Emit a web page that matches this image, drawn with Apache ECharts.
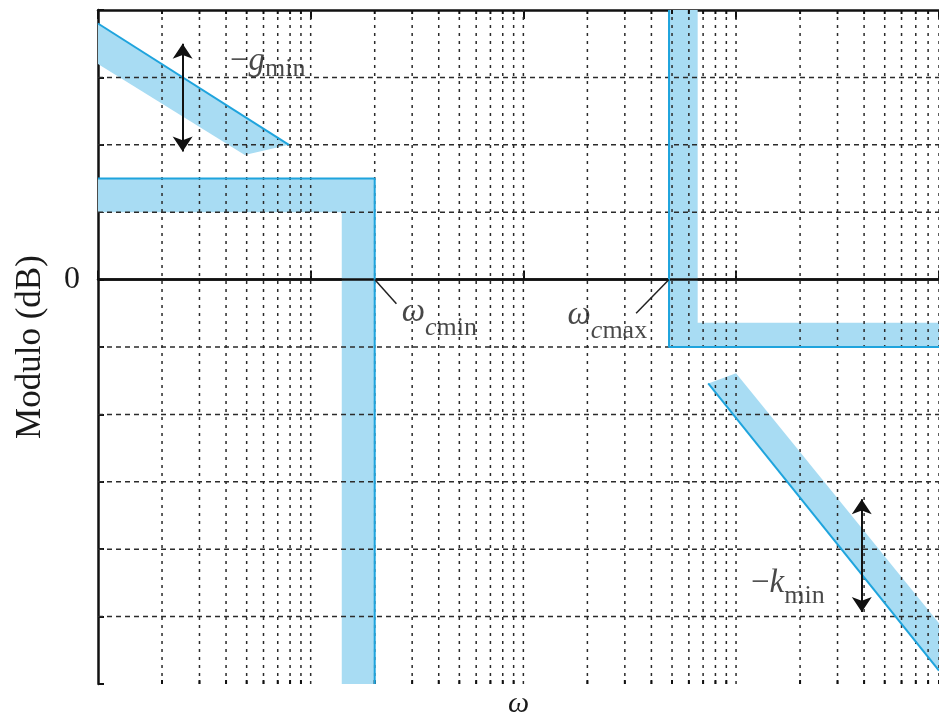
<!DOCTYPE html>
<html>
<head>
<meta charset="utf-8">
<script src="https://cdn.jsdelivr.net/npm/echarts@6/dist/echarts.min.js"></script>
<style>
  html, body { margin: 0; padding: 0; background: #fff; }
  #chart { width: 939px; height: 718px; }
</style>
</head>
<body>
<div id="chart"></div>
<script>
// frequency axis: decades and the 2..9 multiples inside each one
const decades = [1, 10, 100, 1000];
const multiples = [1, 2, 3, 4, 5, 6, 7, 8, 9];
const omegaMax = 9000;
// dB grid lines (0 is drawn solid)
const dbLines = [-50, -40, -30, -20, -10, 10, 20, 30];

// shaded forbidden regions, points are [omega, dB]
const gBand = [[1, 38], [7.9, 20], [4.9, 18.5], [1, 32]];
const lowBand = [[1, 15], [20, 15], [20, -60], [14, -60], [14, 10], [1, 10]];
const highBand = [[484, 40], [660, 40], [660, -6.4], [9000, -6.4], [9000, -10], [484, -10]];
const kBand = [[740, -15.4], [1000, -13.9], [9000, -51], [9000, -58]];

// blue boundaries of the regions
const gEdge = [[1, 38], [7.9, 20]];
const lowEdge = [[1, 15], [20, 15], [20, -60]];
const highEdge = [[484, 40], [484, -10], [9000, -10]];
const kEdge = [[740, -15.4], [9000, -58]];

// arrows, leader lines and label anchors
const gArrow = [[2.5, 35], [2.5, 19]];
const kArrow = [[3900, -32.6], [3900, -49.3]];
const cminLeader = [[20, 0], [25.3, -3.6]];
const cmaxLeader = [[484, 0], [339, -5]];
const zeroLine = [[1, 0], [9000, 0]];
const gLabelAt = [4.17, 32.1];
const cminLabelAt = [26.8, -5.8];
const cmaxLabelAt = [382, -6.2];
const kLabelAt = [1175, -45.8];

const BLUE = '#1fa4dd';
const FILL = '#a8dcf3';
const INK = '#1a1a1a';
const SERIF = 'Liberation Serif';

const omegaTicks = [];
decades.forEach(d => multiples.forEach(m => {
  if (d * m <= omegaMax) omegaTicks.push(d * m);
}));
const bands = [gBand, lowBand, highBand, kBand];

function sub(drop, italic) {
  return {
    fontFamily: SERIF, fontSize: 26, color: INK, fontStyle: italic ? 'italic' : 'normal',
    lineHeight: 34 + drop, verticalAlign: 'bottom'
  };
}
const rich = {
  it: { fontFamily: SERIF, fontSize: 33, fontStyle: 'italic', color: INK, lineHeight: 34, verticalAlign: 'top' },
  rm: { fontFamily: SERIF, fontSize: 33, color: INK, lineHeight: 34, verticalAlign: 'top' },
  sg: sub(3),
  sk: sub(8),
  sw: sub(11),
  swi: sub(11, true)
};

function textPoint(pos, text, side) {
  return {
    value: pos,
    label: { show: true, position: side, distance: 0, formatter: text, rich: rich }
  };
}

const chart = echarts.init(document.getElementById('chart'));
chart.setOption({
  animation: false,
  backgroundColor: '#fff',
  grid: { left: 98, right: 0, top: 10, bottom: 34, containLabel: false, outerBoundsMode: 'none' },
  xAxis: [{
    type: 'log', logBase: 10, min: 1, max: omegaMax,
    name: 'ω', nameLocation: 'middle', nameGap: 5,
    nameTextStyle: { fontFamily: SERIF, fontSize: 30, fontStyle: 'italic', color: INK },
    axisLine: { lineStyle: { color: '#111', width: 2.5 } },
    axisTick: { inside: true, length: 9, lineStyle: { color: '#111', width: 2 } },
    axisLabel: { show: false },
    splitLine: { show: false }
  }, {
    type: 'log', logBase: 10, min: 1, max: omegaMax, position: 'top',
    axisLine: { lineStyle: { color: '#111', width: 2.5 } },
    axisTick: { inside: true, length: 9, lineStyle: { color: '#111', width: 2 } },
    axisLabel: { show: false },
    splitLine: { show: false }
  }],
  yAxis: {
    type: 'value', min: -60, max: 40, interval: 10,
    name: 'Modulo (dB)', nameLocation: 'middle', nameGap: 50,
    nameTextStyle: { fontFamily: SERIF, fontSize: 35, color: INK },
    axisLine: { show: true, lineStyle: { color: '#111', width: 2.5 } },
    axisTick: { inside: true, length: 6, lineStyle: { color: '#111', width: 2 } },
    axisLabel: {
      margin: 18, fontFamily: SERIF, fontSize: 32, color: INK,
      formatter: v => (v === 0 ? '0' : '')
    },
    splitLine: { show: false }
  },
  series: [
    {
      type: 'custom', z: 1, clip: true,
      data: bands.map(b => b[0]),
      renderItem: (params, api) => ({
        type: 'polygon',
        shape: { points: bands[params.dataIndex].map(p => api.coord(p)) },
        style: { fill: FILL }
      })
    },
    {
      // vertical grid + minor ticks
      type: 'custom', z: 2,
      data: omegaTicks.map(v => [v, 0]),
      renderItem: (params, api) => {
        const v = api.value(0);
        const b = api.coord([v, -60]);
        const t = api.coord([v, 40]);
        const major = decades.indexOf(v) >= 0;
        const children = [];
        if (v > 1) {
          children.push({
            type: 'line', shape: { x1: b[0], y1: b[1], x2: t[0], y2: t[1] },
            style: { stroke: '#2b2b2b', lineWidth: 1.5, lineDash: [3, 5] }
          });
        }
        if (!major) {
          children.push({ type: 'line', shape: { x1: b[0], y1: b[1], x2: b[0], y2: b[1] - 4 }, style: { stroke: '#111', lineWidth: 2 } });
          children.push({ type: 'line', shape: { x1: t[0], y1: t[1], x2: t[0], y2: t[1] + 4 }, style: { stroke: '#111', lineWidth: 2 } });
        }
        return { type: 'group', children: children };
      }
    },
    {
      // horizontal grid
      type: 'custom', z: 2,
      data: dbLines.map(y => [1, y]),
      renderItem: (params, api) => {
        const y = api.value(1);
        const a = api.coord([1, y]);
        const c = api.coord([omegaMax, y]);
        return {
          type: 'line', shape: { x1: a[0], y1: a[1], x2: c[0], y2: c[1] },
          style: { stroke: '#2b2b2b', lineWidth: 1.5, lineDash: [5, 4] }
        };
      }
    },
    { type: 'line', z: 3, data: zeroLine, showSymbol: false, lineStyle: { color: '#111', width: 2.5 } },
    { type: 'line', z: 4, data: gEdge, showSymbol: false, lineStyle: { color: BLUE, width: 2 } },
    { type: 'line', z: 4, data: lowEdge, showSymbol: false, lineStyle: { color: BLUE, width: 2 } },
    { type: 'line', z: 4, data: highEdge, showSymbol: false, lineStyle: { color: BLUE, width: 2 } },
    { type: 'line', z: 4, data: kEdge, showSymbol: false, lineStyle: { color: BLUE, width: 2 } },
    {
      type: 'line', z: 5, data: cminLeader, showSymbol: false, lineStyle: { color: '#222', width: 1.5 },
      markLine: {
        silent: true, symbol: ['arrow', 'arrow'], symbolSize: 15,
        label: { show: false },
        lineStyle: { color: '#111', width: 2, type: 'solid' },
        data: [
          [{ coord: gArrow[0] }, { coord: gArrow[1] }],
          [{ coord: kArrow[0] }, { coord: kArrow[1] }]
        ]
      }
    },
    { type: 'line', z: 5, data: cmaxLeader, showSymbol: false, lineStyle: { color: '#222', width: 1.5 } },
    {
      type: 'scatter', z: 6, symbolSize: 0,
      data: [
        textPoint(gLabelAt, '{rm|−}{it|g}{sg|min}', 'right'),
        textPoint(cminLabelAt, '{it|ω}{swi|c}{sw|min}', 'right'),
        textPoint(cmaxLabelAt, '{it|ω}{swi|c}{sw|max}', 'left'),
        textPoint(kLabelAt, '{rm|−}{it|k}{sk|min}', 'right')
      ]
    }
  ]
});
</script>
</body>
</html>
